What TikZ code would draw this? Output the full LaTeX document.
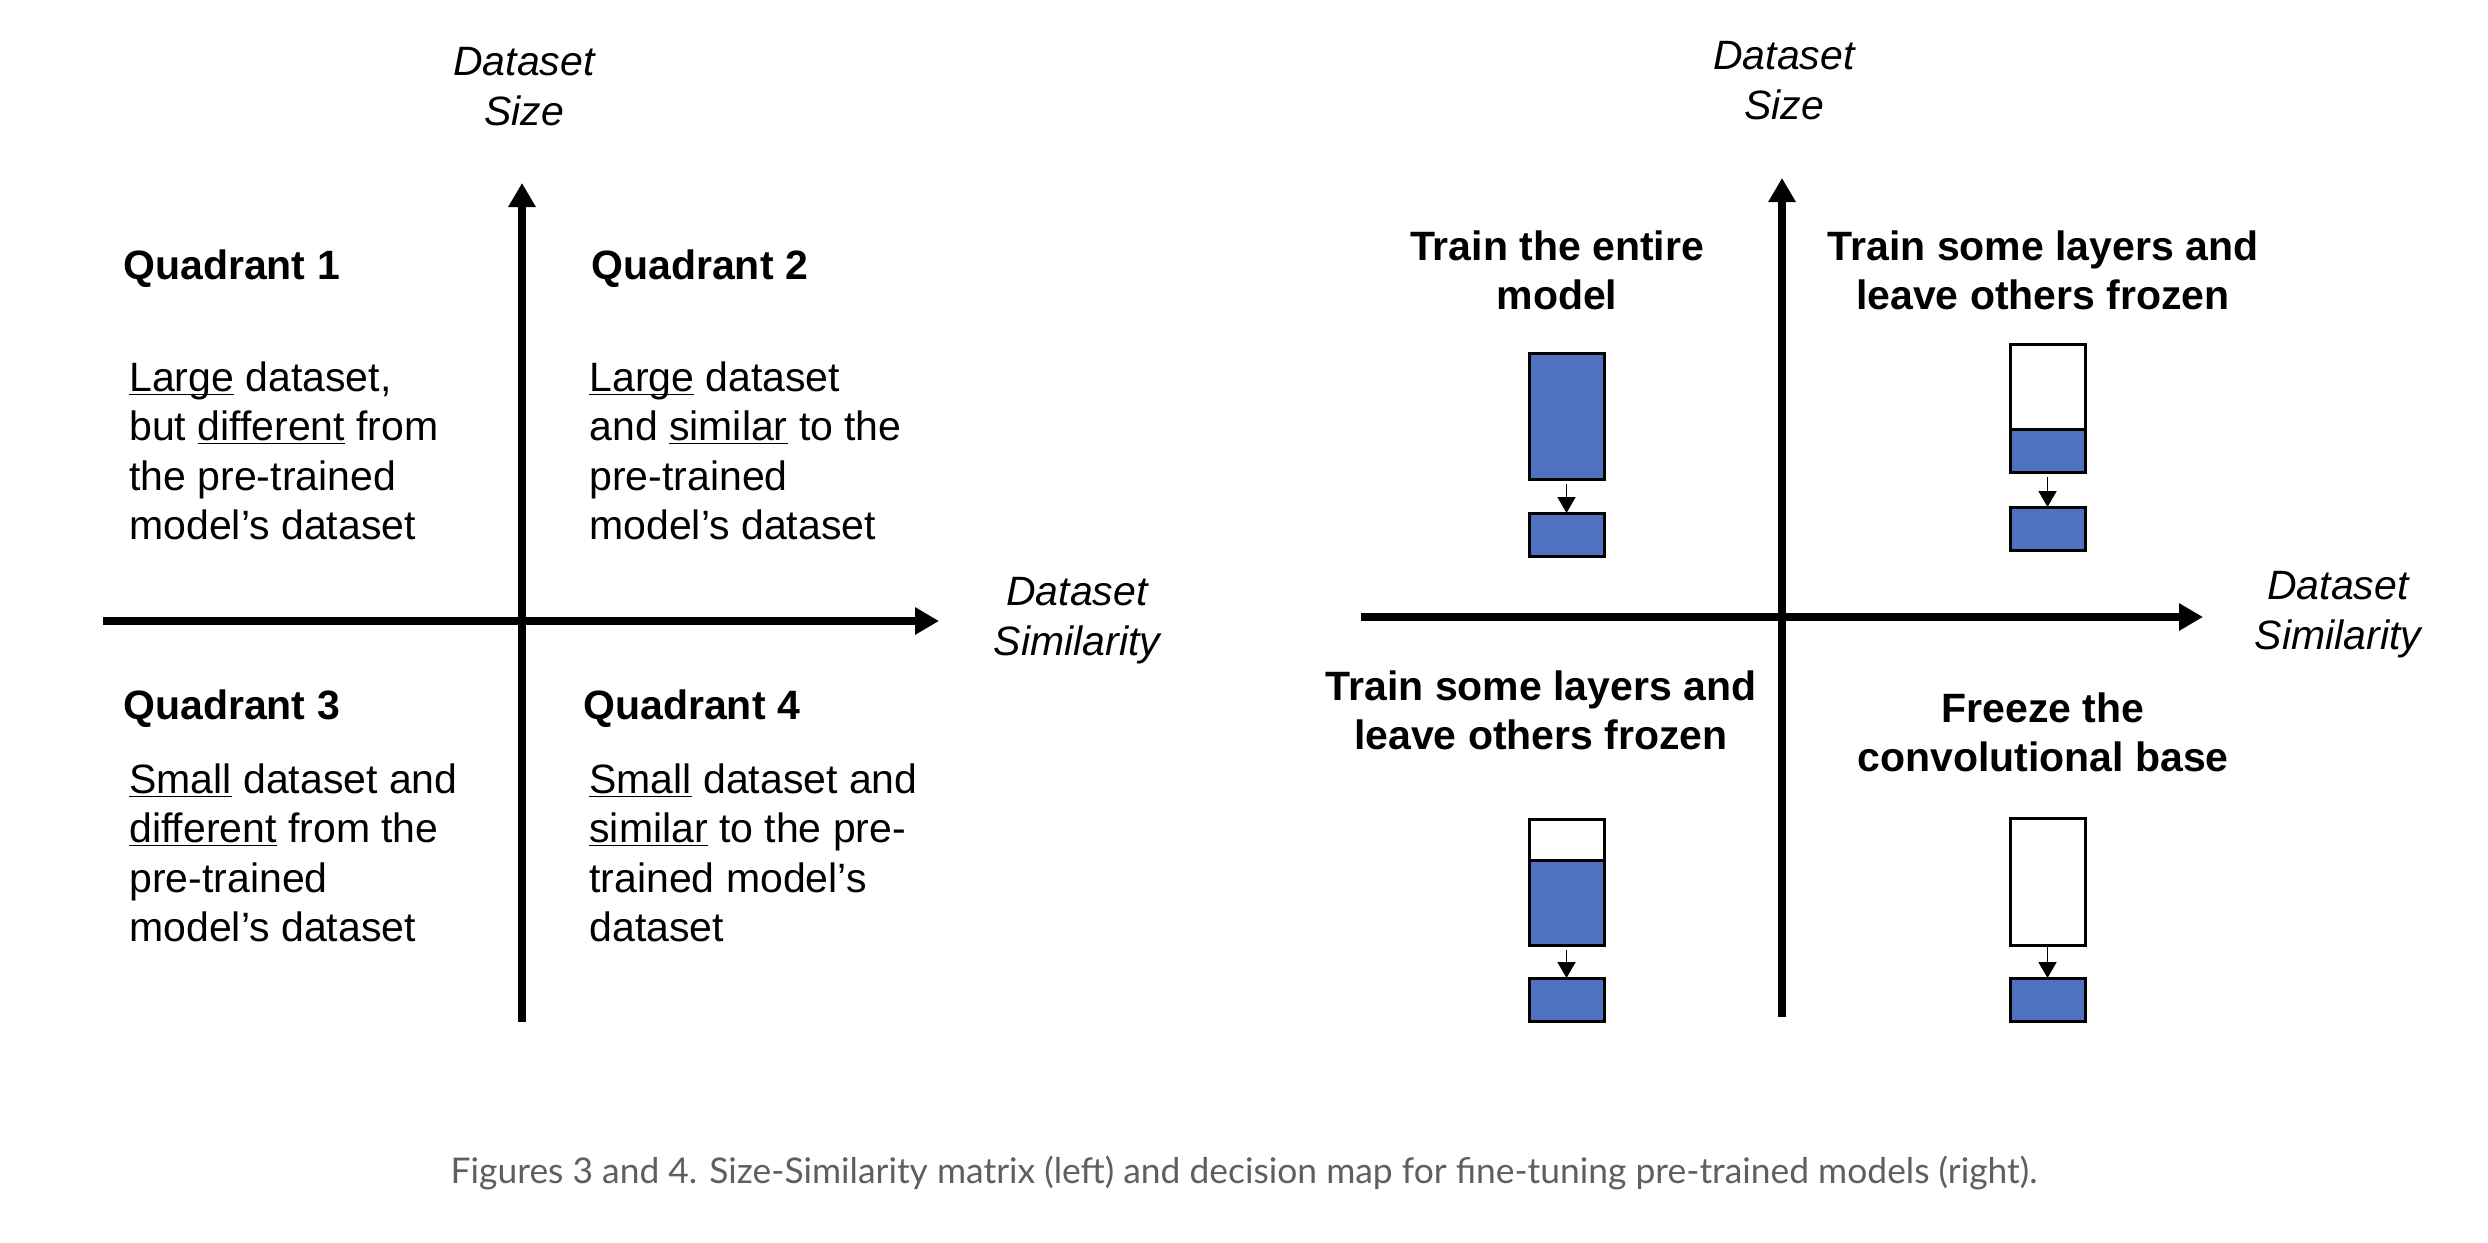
\documentclass[tikz,border=0pt]{standalone}
\usepackage{fontspec}
\setmainfont{Liberation Sans}
\newfontfamily\capfont{Lato}
\usetikzlibrary{arrows.meta, positioning}
\definecolor{layerblue}{RGB}{78,114,189}
\definecolor{capgray}{RGB}{95,95,95}
\newcommand{\ulw}[1]{\underline{\smash{#1}}}

\begin{document}
\begin{tikzpicture}[x=0.5pt, y=-0.5pt,
	txt/.style={inner sep=0, font=\fontsize{20.5pt}{24.75pt}\selectfont},
	axislabel/.style={txt, font=\fontsize{20.5pt}{24.75pt}\selectfont\itshape, align=center, anchor=north},
	quad/.style={txt, font=\fontsize{20.5pt}{24.75pt}\selectfont\bfseries, anchor=north west},
	body/.style={txt, align=left, anchor=north west},
	title/.style={txt, font=\fontsize{20.5pt}{24.75pt}\selectfont\bfseries, align=center, anchor=north},
	axis/.style={line width=4.25pt, -{Triangle[length=12pt,width=13pt]}},
	layer/.style={draw, line width=1.5pt, minimum width=37.5pt, inner sep=0, outer sep=0, anchor=north west},
	trained/.style={layer, fill=layerblue},
	frozen/.style={layer, fill=white},
	feed/.style={line width=0.9pt, -{Triangle[length=8pt,width=9pt]}, shorten <=2.5pt}]
	\useasboundingbox[fill=white] (0,0) rectangle (2488,1242);

	% left: size-similarity matrix
	\coordinate (xl0) at (103,621);  \coordinate (xl1) at (939,621);
	\coordinate (yl0) at (522,1022); \coordinate (yl1) at (522,183);
	\draw[axis] (xl0) -- (xl1); \draw[axis] (yl0) -- (yl1);
	\node[axislabel] (sizeL) at (524,47) {Dataset\\Size};
	\node[axislabel] (simL) at (1077,577) {Dataset\\Similarity};
	\node[quad] (q1) at (123,249) {Quadrant 1};
	\node[quad] (q2) at (591,249) {Quadrant 2};
	\node[quad] (q3) at (123,689) {Quadrant 3};
	\node[quad] (q4) at (583,689) {Quadrant 4};
	\node[body] (b1) at (129,361) {\ulw{Large} dataset,\\but \ulw{different} from\\the pre-trained\\model’s dataset};
	\node[body] (b2) at (589,361) {\ulw{Large} dataset\\and \ulw{similar} to the\\pre-trained\\model’s dataset};
	\node[body] (b3) at (129,763) {\ulw{Small} dataset and\\\ulw{different} from the\\pre-trained\\model’s dataset};
	\node[body] (b4) at (589,763) {\ulw{Small} dataset and\\\ulw{similar} to the pre-\\trained model’s\\dataset};

	% right: decision map
	\coordinate (xr0) at (1361,617);  \coordinate (xr1) at (2203,617);
	\coordinate (yr0) at (1782,1017); \coordinate (yr1) at (1782,178);
	\draw[axis] (xr0) -- (xr1); \draw[axis] (yr0) -- (yr1);
	\node[axislabel] (sizeR) at (1784,41) {Dataset\\Size};
	\node[axislabel] (simR) at (2338,571) {Dataset\\Similarity};
	\node[title] (t1) at (1557,230) {Train the entire\\model};
	\node[title] (t2) at (2043,230) {Train some layers and\\leave others frozen};
	\node[title] (t3) at (1541,670) {Train some layers and\\leave others frozen};
	\node[title] (t4) at (2043,692) {Freeze the\\convolutional base};

	\node[trained, minimum height=63pt] (tlbase) at (1529,353) {};
	\node[trained, minimum height=21.5pt] (tlhead) at (1529,513) {};
	\draw[feed] (tlbase.south) -- (tlhead.north);

	\node[frozen, minimum height=42.5pt] (trtop) at (2010,344) {};
	\node[trained, minimum height=21.5pt, below=0pt of trtop] (trbase) {};
	\node[trained, minimum height=21.5pt] (trhead) at (2010,507) {};
	\draw[feed] (trbase.south) -- (trhead.north);

	\node[frozen, minimum height=20.5pt] (bltop) at (1529,819) {};
	\node[trained, minimum height=42.5pt, below=0pt of bltop] (blbase) {};
	\node[trained, minimum height=21.5pt] (blhead) at (1529,978) {};
	\draw[feed] (blbase.south) -- (blhead.north);

	\node[frozen, minimum height=63.5pt] (brbase) at (2010,818) {};
	\node[trained, minimum height=21.5pt] (brhead) at (2010,978) {};
	\draw[feed, shorten <=0pt] (brbase.south) -- (brhead.north);

	\node[inner sep=0, anchor=base, text=capgray, font=\capfont\fontsize{17.7pt}{20pt}\selectfont] (cap) at (1244,1183) {Figures 3 and 4. Size-Similarity matrix (left) and decision map for fine-tuning pre-trained models (right).};
\end{tikzpicture}
\end{document}
